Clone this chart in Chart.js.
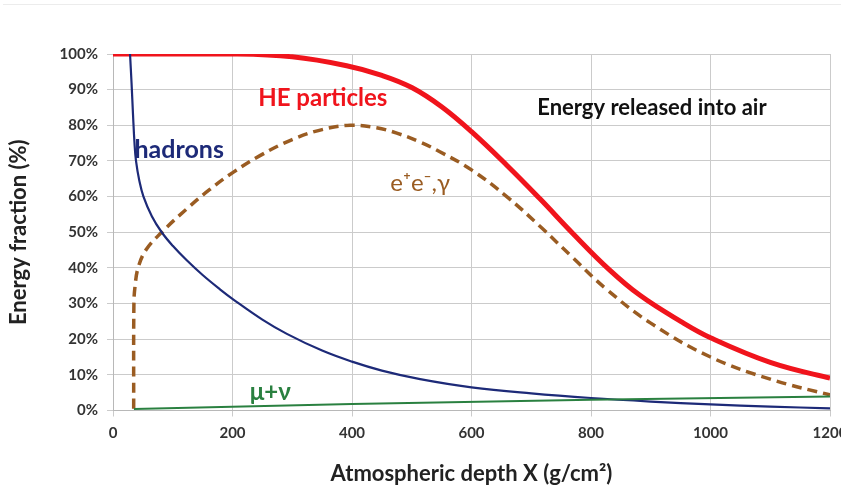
<!DOCTYPE html>
<html>
<head>
<meta charset="utf-8">
<script src="https://cdn.jsdelivr.net/npm/chart.js@4/dist/chart.umd.min.js"></script>
<style>
  html, body { margin: 0; padding: 0; background: #fff; overflow: hidden; }
  #wrap { position: relative; width: 862px; height: 491px; }
  #topline { position: absolute; left: 3px; top: 4px; width: 859px; height: 1px; background: #ececec; }
  #chart { position: absolute; left: 0; top: 0; }
</style>
</head>
<body>
<div id="wrap">
  <div id="topline"></div>
  <canvas id="chart" width="862" height="491"></canvas>
</div>
<script>
// depth in g/cm2, fraction in %
const heDepth = [0, 200, 300, 391, 450, 500, 550, 600, 659, 715, 770, 830, 882, 950, 1000, 1100, 1200, 1225];
const heFrac  = [100, 100, 99.2, 96.7, 94, 90.6, 85.2, 78.2, 68.8, 59.3, 49.6, 39.6, 32.3, 25, 20.4, 13.5, 9.1, 8.4];

const emDepth = [34.6, 35, 37, 42, 55, 81.5, 123, 162, 201, 246, 300, 350, 397, 441, 475, 514, 547, 600, 659, 715, 770, 826, 900, 1000, 1100, 1200, 1215];
const emFrac  = [0.5, 30, 35, 40, 45, 50, 56.5, 62, 66.8, 71.5, 76, 78.8, 80, 79.3, 77.8, 75.3, 72.6, 67.5, 60, 51.6, 42.8, 34, 24.5, 15, 8.8, 4.4, 4];

const hadDepth = [28.5, 31, 33.5, 36, 38.5, 44, 51, 65, 81.5, 100, 123, 150, 179, 201, 250, 291, 350, 400, 450, 514, 600, 700, 800, 900, 1000, 1100, 1200];
const hadFrac  = [100, 92, 83, 75, 70, 64.5, 60, 54.5, 50, 46.2, 42.2, 38, 34, 31.2, 25.5, 21.5, 16.8, 13.7, 11.2, 8.8, 6.5, 4.8, 3.5, 2.5, 1.7, 1.1, 0.6];

const muDepth = [35, 400, 800, 1200, 1215];
const muFrac  = [0.4, 1.8, 3, 3.9, 4];

const xTicks = [0, 200, 400, 600, 800, 1000, 1200];
const yTicks = [0, 10, 20, 30, 40, 50, 60, 70, 80, 90, 100];

const pts = (xs, ys) => xs.map((x, i) => ({ x: x, y: ys[i] }));

// text labels placed next to the curves, anchored in data units
const curveLabels = [
  { text: 'HE particles', x: 243, y: 87.7, color: '#f0141c', font: 'bold 24px Lato' },
  { text: 'hadrons', x: 36, y: 73, color: '#1d2a78', font: 'bold 25px Lato' },
  { text: 'e\u207Ae\u207B,\u03B3', x: 464, y: 63.8, color: '#9a5c22', font: '24px Lato' },
  { text: '\u03BC+\u03BD', x: 229, y: 5.0, color: '#2a8040', font: 'bold 24px Lato' },
  { text: 'Energy released into air', x: 710, y: 85, color: '#111', font: 'bold 22px Lato' }
];

const labelPlugin = {
  id: 'curveLabels',
  afterDatasetsDraw(chart) {
    const ctx = chart.ctx;
    const xs = chart.scales.x, ys = chart.scales.y;
    ctx.save();
    ctx.textBaseline = 'middle';
    ctx.textAlign = 'left';
    curveLabels.forEach(l => {
      ctx.font = l.font;
      ctx.fillStyle = l.color;
      ctx.fillText(l.text, xs.getPixelForValue(l.x), ys.getPixelForValue(l.y));
    });
    ctx.restore();
  }
};

const tickFont = { family: 'Lato', weight: 'bold', size: 15 };
const titleFont = { family: 'Lato', weight: 'bold', size: 22 };

new Chart(document.getElementById('chart'), {
  type: 'scatter',
  data: {
    datasets: [
      { label: 'muons + neutrinos', data: pts(muDepth, muFrac), borderColor: '#2a8040', borderWidth: 2, tension: 0 },
      { label: 'hadrons', data: pts(hadDepth, hadFrac), borderColor: '#1d2a78', borderWidth: 2.2, tension: 0.4 },
      { label: 'e+e-,gamma', data: pts(emDepth, emFrac), borderColor: '#9a5c22', borderWidth: 3.5, borderDash: [10, 6], tension: 0.4 },
      { label: 'HE particles', data: pts(heDepth, heFrac), borderColor: '#f0141c', borderWidth: 5, tension: 0.4 }
    ].map(d => Object.assign(d, { showLine: true, pointRadius: 0, fill: false }))
  },
  options: {
    responsive: false,
    animation: false,
    devicePixelRatio: 1,
    layout: { padding: { left: 0, top: 54, right: 32, bottom: 0 } },
    plugins: { legend: { display: false }, tooltip: { enabled: false } },
    scales: {
      x: {
        type: 'linear', min: 0, max: 1200,
        afterBuildTicks: s => { s.ticks = xTicks.map(v => ({ value: v })); },
        afterFit: s => { s.height = 80.5; },
        grid: { color: '#cbcbcb', tickLength: 6 },
        border: { color: '#b8b8b8' },
        ticks: { color: '#333', font: tickFont, padding: 8, maxRotation: 0, callback: v => String(v) },
        title: { display: true, text: 'Atmospheric depth X (g/cm\u00B2)', color: '#222',
                 font: titleFont, padding: { top: 2 } }
      },
      y: {
        type: 'linear', min: 0, max: 100,
        afterBuildTicks: s => { s.ticks = yTicks.map(v => ({ value: v })); },
        afterFit: s => { s.width = 113; },
        grid: { color: '#cbcbcb', tickLength: 6 },
        border: { color: '#b8b8b8' },
        ticks: { color: '#333', font: tickFont, padding: 9, callback: v => v + '%' },
        title: { display: true, text: 'Energy fraction (%)', color: '#222',
                 font: titleFont, padding: { top: 6, bottom: 0 } }
      }
    }
  },
  plugins: [labelPlugin]
});
</script>
</body>
</html>
